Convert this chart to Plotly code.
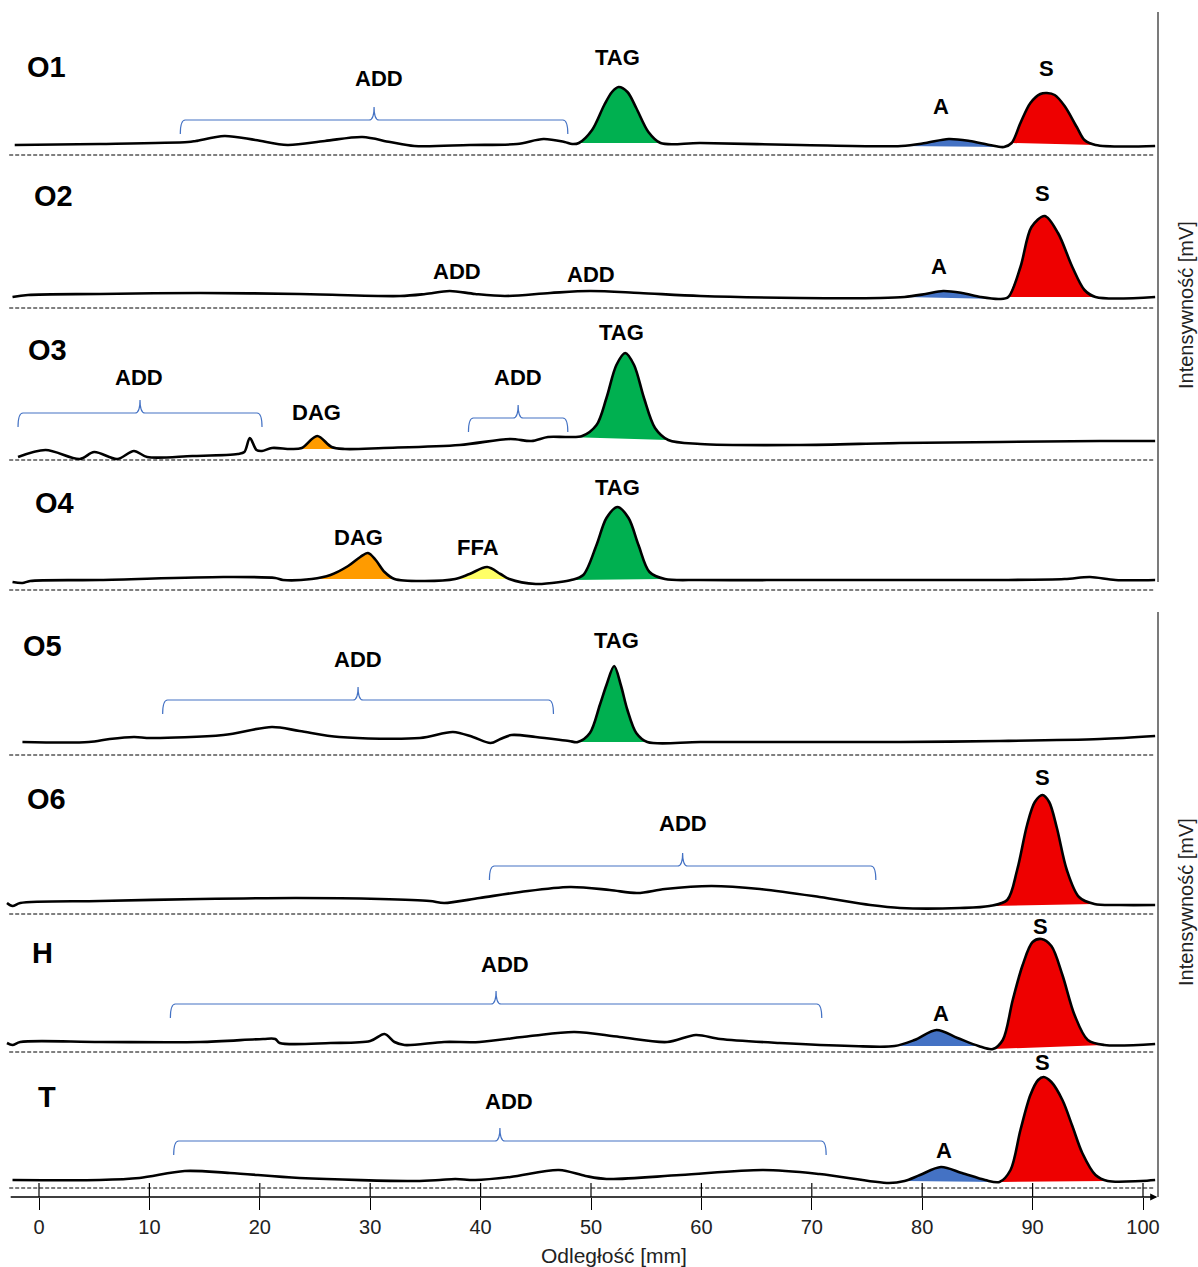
import plotly.graph_objects as go

# ---------------- DATA (x = distance in mm, y = signal above panel reference line) -------------
PANELS = ["O1", "O2", "O3", "O4", "O5", "O6", "H", "T"]

O1_x = [-2.2, 5.5, 13.5, 14.2, 16.8, 19.6, 22.5, 25.9, 29.3, 31.8, 34.0, 39.0, 43.3, 45.7, 47.6, 48.3,
        48.9, 50.1, 51.2, 51.9, 52.5, 53.3, 54.1, 55.2, 56.3, 59.9, 68.9, 78.1, 80.3, 82.4, 84.3, 86.1,
        87.4, 88.1, 88.9, 89.8, 90.7, 91.3, 92.0, 92.9, 94.0, 94.7, 95.7, 101.1]
O1_y = [10, 11, 13, 14, 19, 15, 10, 14, 18, 13, 9, 10, 11, 16, 13, 11,
        12, 25, 50, 63, 68, 63, 47, 23, 12, 12, 10, 9, 12, 16, 14, 10,
        8, 12, 32, 52, 61, 62, 60, 49, 28, 15, 10, 9]
O1_peaks = [("TAG", 48.9, 56.3), ("A", 78.1, 87.4), ("S", 88.1, 95.7)]

O2_x = [-2.4, -1.0, 5.5, 14.6, 23.6, 32.7, 35.0, 37.2, 39.5, 42.2, 46.3, 49.9, 54.4, 59.9, 68.9, 76.2,
        78.4, 80.3, 81.9, 83.6, 85.3, 87.0, 87.8, 88.9, 89.9, 91.1, 92.3, 93.6, 94.7, 95.7, 101.1]
O2_y = [11, 13, 14, 15, 14, 12, 14, 17, 14, 12, 15, 17, 15, 12, 10, 10,
        11, 14, 17, 15, 11, 9, 11, 41, 81, 92, 75, 41, 18, 11, 11]
O2_peaks = [("A", 78.4, 87.0), ("S", 87.8, 95.7)]

O3_x = [-1.9, 0.6, 3.7, 5.0, 7.1, 8.6, 9.8, 13.9, 18.0, 18.6, 19.1, 19.7, 20.2, 21.1, 22.8, 23.8,
        25.2, 26.5, 27.7, 31.2, 38.1, 42.7, 44.6, 46.1, 47.8, 49.2, 50.5, 51.4, 52.3, 53.1, 53.9,
        54.8, 55.8, 57.0, 59.9, 68.9, 78.0, 87.0, 96.1, 101.1]
O3_y = [3, 10, 1, 8, 1, 9, 3, 4, 6, 8, 22, 10, 9, 12, 11, 12,
        24, 13, 11, 12, 15, 21, 19, 23, 23, 24, 35, 62, 95, 107, 95,
        62, 32, 20, 16, 15, 17, 18, 19, 19]
O3_peaks = [("DAG", 22.8, 27.7), ("TAG", 47.8, 57.0)]

O4_x = [-2.4, -1.5, -0.8, 5.5, 16.7, 21.4, 22.1, 24.7, 26.4, 28.0, 29.1, 29.8, 30.5, 31.3, 32.2,
        34.9, 37.7, 39.0, 40.6, 41.8, 42.6, 45.0, 47.2, 48.2, 49.3, 50.5, 51.4, 52.4, 53.4, 54.3,
        55.3, 56.7, 59.9, 68.9, 78.0, 87.0, 92.9, 95.2, 97.5, 101.1]
O4_y = [8, 7, 9, 10, 13, 12, 10, 11, 15, 24, 33, 37, 30, 18, 11,
        9, 11, 16, 23, 16, 11, 6, 8, 10, 15, 45, 72, 83, 72, 45,
        18, 11, 10, 10, 10, 10, 11, 13, 10, 10]
O4_peaks = [("DAG", 24.7, 32.2), ("FFA", 37.7, 42.6), ("TAG", 48.2, 56.7)]

O5_x = [-1.5, 4.5, 6.4, 8.6, 10.1, 16.7, 21.1, 23.6, 27.2, 34.5, 37.5, 39.3, 40.9, 41.8, 42.8, 45.0,
        48.0, 48.8, 49.9, 50.8, 51.4, 52.1, 52.7, 53.3, 54.1, 55.1, 59.9, 68.9, 78.0, 87.0, 96.1, 101.1]
O5_y = [13, 13, 16, 18, 17, 20, 28, 24, 18, 17, 23, 18, 12, 16, 20, 18,
        14, 13, 22, 50, 70, 89, 70, 45, 22, 13, 13, 13, 13, 14, 16, 19]
O5_peaks = [("TAG", 48.8, 55.1)]

O6_x = [-2.9, -2.4, -1.7, 5.5, 14.6, 23.3, 30.9, 35.4, 36.7, 39.9, 43.6, 48.1, 51.7, 54.2, 56.7,
        60.9, 65.3, 70.7, 75.3, 78.0, 83.4, 86.1, 87.7, 88.6, 89.5, 90.2, 90.9, 91.5, 92.2, 93.1,
        94.2, 95.6, 97.9, 101.1]
O6_y = [11, 8, 11, 13, 15, 16, 15, 13, 11, 16, 22, 27, 24, 21, 25,
        28, 25, 17, 9, 6, 6, 8, 14, 44, 89, 112, 119, 112, 86, 44,
        17, 10, 9, 9]
O6_peaks = [("S", 86.1, 95.6)]

H_x = [-2.9, -2.4, -1.7, 5.5, 14.6, 20.3, 21.4, 21.8, 26.4, 30.0, 31.3, 32.2, 33.1, 36.7, 39.9,
       44.5, 48.5, 52.6, 56.9, 59.5, 61.7, 67.1, 73.6, 77.5, 79.3, 81.3, 83.2, 85.1, 86.4, 87.3,
       88.2, 89.1, 90.0, 90.8, 91.7, 92.7, 93.8, 95.0, 96.5, 101.1]
H_y = [9, 7, 10, 10, 10, 13, 13, 9, 9, 11, 18, 10, 7, 10, 10,
       16, 20, 15, 10, 17, 13, 9, 6, 6, 12, 22, 14, 6, 3, 12,
       52, 87, 110, 113, 106, 77, 37, 12, 7, 8]
H_peaks = [("A", 77.5, 85.1), ("S", 86.4, 96.5)]

T_x = [-2.4, 5.5, 9.1, 13.2, 17.3, 23.6, 34.1, 36.3, 37.7, 39.5, 42.7, 47.1, 49.5, 51.4, 58.1,
       65.6, 70.7, 77.0, 78.4, 79.8, 81.7, 83.6, 85.7, 87.0, 88.0, 88.9, 89.8, 90.5, 91.0, 91.7,
       92.7, 93.6, 94.5, 95.7, 96.8, 99.8, 101.1]
T_y = [8, 8, 10, 17, 15, 10, 7, 8, 9, 8, 11, 18, 12, 9, 13,
       18, 14, 5, 7, 13, 21, 15, 8, 6, 18, 58, 93, 108, 111, 106,
       88, 62, 35, 13, 7, 7, 8]
T_peaks = [("A", 78.4, 87.0), ("S", 87.0, 96.8)]

# brackets: (start mm, end mm, level)
O1_brackets = [(12.8, 47.9, 35)]
O2_brackets = []
O3_brackets = [(-1.9, 20.2, 47), (38.9, 47.9, 42)]
O4_brackets = []
O5_brackets = [(11.2, 46.6, 55)]
O6_brackets = [(40.8, 75.8, 48)]
H_brackets = [(11.9, 70.9, 48)]
T_brackets = [(12.2, 71.3, 47)]

# peak labels: (text, x mm, y)
O1_labels = [("ADD", 30.8, 77), ("TAG", 52.4, 98), ("A", 81.7, 49), ("S", 91.3, 87)]
O2_labels = [("ADD", 37.9, 37), ("ADD", 50.0, 34), ("A", 81.5, 42), ("S", 90.9, 115)]
O3_labels = [("ADD", 9.1, 83), ("DAG", 25.1, 48), ("ADD", 43.4, 83), ("TAG", 52.8, 128)]
O4_labels = [("DAG", 28.9, 53), ("FFA", 39.8, 43), ("TAG", 52.4, 103)]
O5_labels = [("ADD", 28.9, 96), ("TAG", 52.3, 115)]
O6_labels = [("ADD", 58.3, 91), ("S", 90.9, 137)]
H_labels = [("ADD", 42.2, 88), ("A", 81.7, 39), ("S", 90.7, 126)]
T_labels = [("ADD", 42.6, 87), ("A", 82.0, 38), ("S", 90.9, 126)]

# panel name label positions (x mm, y)
NAME_POS = {"O1": (0.7, 88), "O2": (1.3, 112), "O3": (0.8, 110), "O4": (1.4, 87),
            "O5": (0.3, 109), "O6": (0.7, 115), "H": (0.3, 99), "T": (0.7, 91)}

X_TICKS = [0, 10, 20, 30, 40, 50, 60, 70, 80, 90, 100]
X_TITLE = "Odległość [mm]"
Y_TITLE = "Intensywność [mV]"

# ---------------- LAYOUT / STYLE ----------------
DATA = {
    "O1": (O1_x, O1_y, O1_peaks, O1_brackets, O1_labels),
    "O2": (O2_x, O2_y, O2_peaks, O2_brackets, O2_labels),
    "O3": (O3_x, O3_y, O3_peaks, O3_brackets, O3_labels),
    "O4": (O4_x, O4_y, O4_peaks, O4_brackets, O4_labels),
    "O5": (O5_x, O5_y, O5_peaks, O5_brackets, O5_labels),
    "O6": (O6_x, O6_y, O6_peaks, O6_brackets, O6_labels),
    "H": (H_x, H_y, H_peaks, H_brackets, H_labels),
    "T": (T_x, T_y, T_peaks, T_brackets, T_labels),
}
PEAK_COLORS = {"TAG": "#00B050", "S": "#EE0000", "A": "#4472C4", "DAG": "#FF9B00", "FFA": "#FFFF66"}
BRACKET_COLOR = "#4472C4"
FONT = "Arial, 'Liberation Sans', sans-serif"

W, HT = 1198, 1267
ML, MR, MT, MB = 5, 38, 0, 70
PH = HT - MT - MB
PW = W - ML - MR
REF_PX = [155, 308, 460, 590, 755, 914, 1052, 1188]   # pixel row of each panel's dashed reference
X_RANGE = [-3.08, 101.54]


def py(px):
    return (PH - (px - MT)) / PH


def px_x(px):
    return (px - ML) / PW


fig = go.Figure()
layout = dict(width=W, height=HT, margin=dict(l=ML, r=MR, t=MT, b=MB),
              paper_bgcolor="white", plot_bgcolor="rgba(0,0,0,0)", showlegend=False,
              font=dict(family=FONT, color="black"))
shapes, annotations = [], []


def brace_path(x0, x1, y, d=14, tip=13, dx=0.45):
    xm = (x0 + x1) / 2
    return (f"M {x0},{y - d} Q {x0},{y} {x0 + dx},{y} L {xm - dx},{y} "
            f"Q {xm},{y} {xm},{y + tip} Q {xm},{y} {xm + dx},{y} "
            f"L {x1 - dx},{y} Q {x1},{y} {x1},{y - d}")


for i, name in enumerate(PANELS):
    xs, ys, peaks, brackets, labels = DATA[name]
    yid = "y" if i == 0 else f"y{i + 1}"
    lkey = "yaxis" if i == 0 else f"yaxis{i + 1}"
    D = REF_PX[i]
    B = min(D + 8, PH)
    T = D - 150
    layout[lkey] = dict(domain=[py(B), py(T)], range=[-(B - D), D - T], visible=False, fixedrange=True)

    for kind, a, b in peaks:
        sx = [x for x in xs if a <= x <= b]
        sy = [y for x, y in zip(xs, ys) if a <= x <= b]
        fig.add_trace(go.Scatter(x=sx, y=sy, mode="lines", fill="toself", fillcolor=PEAK_COLORS[kind],
                                 line=dict(width=0, shape="spline", smoothing=0.9, color=PEAK_COLORS[kind]),
                                 yaxis=yid, hoverinfo="skip"))
    fig.add_trace(go.Scatter(x=xs, y=ys, mode="lines",
                             line=dict(color="black", width=2.6, shape="spline", smoothing=0.9),
                             yaxis=yid, hoverinfo="skip"))

    shapes.append(dict(type="line", xref="x", yref=yid, x0=-2.7, x1=101.0, y0=0, y1=0,
                       line=dict(color="black", width=1, dash="4px,2px")))
    for a, b, lev in brackets:
        shapes.append(dict(type="path", xref="x", yref=yid, path=brace_path(a, b, lev),
                           line=dict(color=BRACKET_COLOR, width=1.2)))
    for text, lx, ly in labels:
        annotations.append(dict(text=f"<b>{text}</b>", x=lx, y=ly, xref="x", yref=yid, showarrow=False,
                                font=dict(size=22, family=FONT, color="black"),
                                xanchor="center", yanchor="middle"))
    nx, ny = NAME_POS[name]
    annotations.append(dict(text=f"<b>{name}</b>", x=nx, y=ny, xref="x", yref=yid, showarrow=False,
                            font=dict(size=29, family=FONT, color="black"),
                            xanchor="center", yanchor="middle"))

# right vertical frame lines
for top, bot in [(12, 582), (612, PH)]:
    shapes.append(dict(type="line", xref="paper", yref="paper", x0=px_x(1158), x1=px_x(1158),
                       y0=py(bot), y1=py(top), line=dict(color="#333333", width=1.3)))
for cy in (305, 902):
    annotations.append(dict(text=Y_TITLE, x=px_x(1186), y=py(cy), xref="paper", yref="paper",
                            textangle=-90, showarrow=False, font=dict(size=20, family=FONT, color="#222222"),
                            xanchor="center", yanchor="middle"))

# x axis arrow line
annotations.append(dict(text="", x=101.3, y=0, xref="x", yref="paper", ax=-2.7, ay=0, axref="x",
                        ayref="pixel", showarrow=True, arrowhead=2, arrowsize=1.1, arrowwidth=1.3,
                        arrowcolor="black"))
# upper halves of tick marks
for t in X_TICKS:
    shapes.append(dict(type="line", xref="x", yref="paper", x0=t, x1=t, y0=0, y1=14 / PH,
                       line=dict(color="black", width=1.2)))
annotations.append(dict(text=X_TITLE, x=px_x(614), y=py(1255), xref="paper", yref="paper",
                        showarrow=False, font=dict(size=21, family=FONT, color="#222222"),
                        xanchor="center", yanchor="middle"))

layout["xaxis"] = dict(range=X_RANGE, anchor="free", position=0, showgrid=False, zeroline=False,
                       showline=False, tickmode="array", tickvals=X_TICKS,
                       ticktext=[str(t) for t in X_TICKS], ticks="outside", ticklen=12,
                       tickwidth=1.2, tickcolor="black", tickfont=dict(size=20, family=FONT, color="#222222"),
                       fixedrange=True)
layout["shapes"] = shapes
layout["annotations"] = annotations
fig.update_layout(**layout)
fig.write_html("out.html", config={"displayModeBar": False},
               post_script="document.body.style.margin='0';document.body.style.padding='0';"
                           "document.documentElement.style.overflow='hidden';")
